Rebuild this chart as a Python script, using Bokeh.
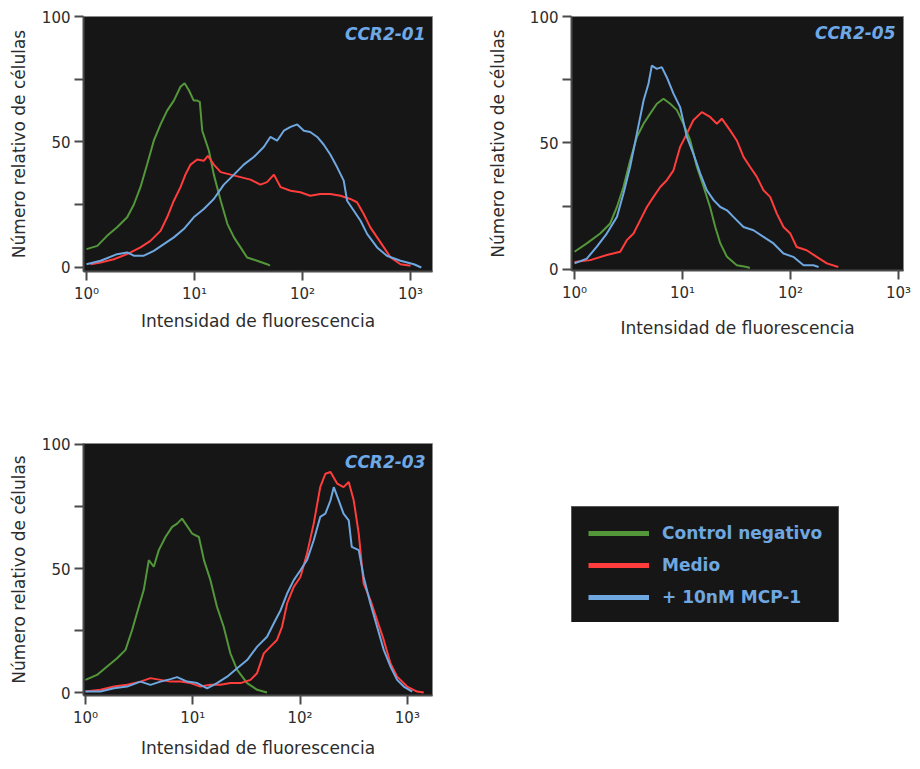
from bokeh.plotting import figure
from bokeh.models import FixedTicker, Label, Legend, LegendItem, Range1d, CustomJSTickFormatter
from bokeh.layouts import row, column
from bokeh.embed import file_html
from bokeh.resources import INLINE

# ---------------- data ----------------
series_names = ["Control negativo", "Medio", "+ 10nM MCP-1"]
panel_titles = ["CCR2-01", "CCR2-05", "CCR2-03"]
x_ticks = [1, 10, 100, 1000]
y_ticks = [0, 25, 50, 75, 100]
x_label = "Intensidad de fluorescencia"
y_label = "Número relativo de células"

# CCR2-01
p1_green_x = [1, 1.26, 1.55, 1.92, 2.38, 2.74, 3.16, 3.64, 4.2, 4.85, 5.58, 6.44, 7.42, 8.1, 8.9, 9.84,
              10.6, 11.2, 11.8, 13.6, 15.1, 17.5, 20.2, 23.2, 26.7, 30.7, 38, 47, 50]
p1_green_y = [7.3, 8.6, 12.6, 16, 20, 25, 32, 41, 50.5, 57, 62.5, 66.5, 72, 73.4, 70.5, 66.5,
              66.5, 66, 54.5, 46.5, 37, 26.6, 17.3, 12, 8, 4, 2.7, 1.3, 0.7]
p1_red_x = [1.09, 1.35, 1.79, 2.38, 3.16, 3.91, 4.85, 5.58, 6.44, 7.42, 8.24, 9.2, 10.6, 12.2, 13.3, 15.1,
            17.5, 21.6, 26.7, 33, 40.8, 47, 54.4, 62.8, 77.6, 95.6, 118, 146, 181, 225, 277, 320,
            369, 425, 491, 567, 655, 808, 1000]
p1_red_y = [1.3, 2, 3.3, 5.3, 8, 10.6, 14.6, 20, 26.6, 32, 37, 41, 43, 42.5, 44.5, 41,
            38, 37, 36, 35, 33, 34, 37, 32, 30.6, 30, 28.6, 29.3, 29.3, 28.6, 27.3, 26,
            21.3, 16, 12, 8, 4, 1.3, 0.7]
p1_blue_x = [1, 1.35, 1.92, 2.38, 2.74, 3.4, 4.2, 5.2, 6.44, 7.96, 9.84, 12.2, 15.1, 18.7, 23.2, 28.6,
             35.4, 43.8, 50.4, 58.2, 67.2, 77.6, 89.5, 103, 118, 137, 157, 181, 209, 241, 259, 299,
             345, 398, 491, 604, 808, 1077, 1260]
p1_blue_y = [1.3, 2.7, 5.3, 6, 4.7, 4.7, 6.6, 9.3, 12, 15.3, 20, 23.3, 27.3, 33, 37, 41,
             44, 48, 52, 50.5, 54.5, 56, 57, 54.5, 54, 52, 49, 45, 40, 34.6, 26.6, 22.6,
             18.6, 13.3, 8, 4.7, 2.7, 1.3, 0]

# CCR2-05
p2_green_x = [1, 1.3, 1.73, 2.14, 2.47, 2.84, 3.27, 3.78, 4.36, 5.02, 5.79, 6.67, 7.69, 8.87, 10.2, 11.8,
              13.6, 15.7, 18, 20.1, 22.4, 25.8, 31.8, 39.4, 42]
p2_green_y = [7, 10.3, 14.2, 18.2, 24.7, 32.6, 43, 52.4, 57.6, 61.6, 65.5, 67.5, 65.5, 63, 57.6, 51,
              40.5, 32.6, 24.7, 16.8, 10.3, 5, 1.7, 1, 0.6]
p2_red_x = [1, 1.4, 1.99, 2.65, 3.05, 3.52, 4.06, 4.68, 5.39, 6.22, 7.16, 8.25, 9.5, 10.97, 12.6, 15.1,
            18, 20.8, 23.1, 27.6, 31.8, 36.7, 42.3, 48.8, 56.2, 64.8, 74.7, 86.1, 99.6, 114, 141, 175,
            217, 277]
p2_red_y = [3, 3.7, 5.7, 7, 11.6, 14.2, 19.5, 24.7, 28.7, 32.6, 35.3, 39.2, 48.4, 53.7, 59, 62.2,
            60.3, 57.6, 59.6, 55, 51, 44.5, 40.5, 36.6, 31.3, 28.7, 22.1, 16.8, 14.2, 8.9, 7.6, 5,
            2.4, 1]
p2_blue_x = [1, 1.3, 1.61, 1.99, 2.47, 2.84, 3.27, 3.78, 4.36, 4.84, 5.2, 5.79, 6.43, 7.15, 8.25, 9.5,
             10.97, 12.6, 14.6, 16.8, 19.4, 22.4, 25.8, 29.6, 36.7, 45.4, 56.2, 69.6, 86.1, 106, 132, 163,
             182]
p2_blue_y = [2.4, 4.3, 9, 14.2, 20.8, 30, 40.5, 53.7, 66.8, 73.4, 80.6, 79.3, 80, 76, 69.5, 64.2,
             52.4, 45.8, 37.9, 31.3, 27.4, 24.7, 23.4, 20.8, 16.8, 15.5, 12.9, 10.3, 6.3, 5, 1.7, 1.7,
             1]

# CCR2-03
p3_green_x = [1, 1.28, 1.59, 1.97, 2.36, 2.72, 3.14, 3.49, 3.89, 4.33, 4.82, 5.56, 6.42, 7.14, 7.94, 8.54,
              9.86, 11.4, 12.7, 14.6, 16.8, 19.4, 22.4, 25.9, 32.1, 39.8, 49.2]
p3_green_y = [5.1, 7.1, 10.5, 13.8, 17.2, 25.2, 34.6, 41.3, 53.4, 50.7, 57.4, 62.7, 66.8, 68.1, 70.1, 68.1,
              64.1, 62.7, 53.4, 45.3, 34.6, 26.5, 15.8, 9.1, 3.8, 1.1, 0]
p3_red_x = [1, 1.38, 1.84, 2.44, 3.25, 4.03, 5, 6.19, 7.68, 9.52, 11.8, 14.6, 18.1, 22.4, 27.8, 34.5,
            39.7, 45.9, 52.8, 60.9, 67.9, 75.7, 87.3, 100.7, 116, 134, 154, 172, 192, 222, 254, 284,
            316, 352, 391, 452, 522, 602, 695, 802, 995, 1231, 1420]
p3_red_y = [0.4, 1.1, 2.4, 3.1, 4.4, 5.8, 5.1, 4.4, 4.4, 3.8, 2.4, 3.1, 3.1, 3.8, 3.8, 5.1,
            7.8, 15.8, 18.5, 21.2, 26.5, 35.9, 42.6, 46.6, 56, 68.1, 82.8, 88.2, 88.9, 84.2, 82.8, 84.9,
            77.5, 64.1, 44, 37.3, 29.2, 21.2, 11.8, 6.4, 2.4, 0.4, 0]
p3_blue_x = [1, 1.38, 1.84, 2.44, 3.25, 4.03, 5, 6.19, 7.14, 8.86, 11, 13.6, 16.8, 20.9, 25.9, 32.1,
             39.8, 49.2, 56.9, 65.8, 75.7, 87.3, 100.7, 116, 134, 154, 172, 192, 206, 229, 254, 284,
             303, 352, 391, 452, 522, 602, 695, 802, 925, 1108]
p3_blue_y = [0.4, 0.4, 1.7, 2.4, 4.4, 3.1, 4.4, 5.4, 6.2, 4.4, 3.8, 1.7, 3.8, 6.4, 9.8, 13.1,
             18.5, 22.5, 27.9, 33.2, 39.9, 45.3, 49.3, 53.4, 61.4, 70.8, 72.1, 77.5, 82.8, 77.5, 72.1, 69.4,
             58.7, 57.4, 46.6, 35.9, 26.5, 17.2, 10.5, 5.1, 2.4, 0.4]

# ---------------- style ----------------
GREEN = "#54973a"
RED = "#ff3d3d"
BLUE = "#6fa7e0"
TITLE_BLUE = "#6ea8e6"
FRAME_BG = "#161616"
INK = "#2c2c2c"
FONT = "DejaVu Sans"

x_fmt = CustomJSTickFormatter(code="""
const s = {0: '\u2070', 1: '\u00b9', 2: '\u00b2', 3: '\u00b3'};
return '10' + s[Math.round(Math.log10(tick))];
""")
y_fmt = CustomJSTickFormatter(code="return (Math.round(tick) % 50 == 0) ? Math.round(tick).toString() : '';")


def make_panel(title, width, height, borders, xr, yr, xls, yls, curves, inset):
    left, right, top, bottom = borders
    p = figure(width=width, height=height, x_axis_type="log",
               x_range=Range1d(*xr), y_range=Range1d(*yr),
               output_backend="svg", toolbar_location=None,
               min_border_left=left, min_border_right=right,
               min_border_top=top, min_border_bottom=bottom)
    p.background_fill_color = FRAME_BG
    p.border_fill_color = "white"
    p.outline_line_color = "#8a8a8a"
    p.outline_line_width = 1
    p.grid.visible = False

    p.xaxis.ticker = FixedTicker(ticks=x_ticks)
    p.xaxis.formatter = x_fmt
    p.yaxis.ticker = FixedTicker(ticks=y_ticks)
    p.yaxis.formatter = y_fmt
    p.xaxis.axis_label = x_label
    p.yaxis.axis_label = y_label
    p.xaxis.axis_label_standoff = xls
    p.yaxis.axis_label_standoff = yls

    for ax in (p.xaxis, p.yaxis):
        ax.axis_line_color = "#4a4a4a"
        ax.axis_line_width = 2
        ax.major_tick_line_color = "#4a4a4a"
        ax.major_tick_line_width = 2
        ax.major_tick_out = 9
        ax.major_tick_in = 0
        ax.minor_tick_line_color = None
        ax.major_label_text_font = FONT
        ax.major_label_text_font_size = "15px"
        ax.major_label_text_color = INK
        ax.major_label_standoff = 4
        ax.axis_label_text_font = FONT
        ax.axis_label_text_font_size = "17px"
        ax.axis_label_text_font_style = "normal"
        ax.axis_label_text_color = INK

    for (xs, ys, c) in curves:
        p.line(xs, ys, line_color=c, line_width=2)

    fw = width - left - right
    fh = height - top - bottom
    p.add_layout(Label(x=fw - inset[0], y=fh - inset[1], x_units="screen", y_units="screen",
                       text=title, text_align="right", text_baseline="top",
                       text_font=FONT, text_font_style="bold italic",
                       text_font_size="17px", text_color=TITLE_BLUE))
    return p


# left column: width 468 (frames 83..432); right column: width 443 (frames 571..903)
p1 = make_panel(panel_titles[0], 468, 343, (83, 36, 16, 72),
                (0.938, 1600), (-1.6, 100), 5, 10,
                [(p1_green_x, p1_green_y, GREEN), (p1_red_x, p1_red_y, RED), (p1_blue_x, p1_blue_y, BLUE)],
                (7, 7))
p2 = make_panel(panel_titles[1], 443, 343, (103, 8, 16, 73),
                (0.938, 1112), (-0.4, 100), 13, 19,
                [(p2_green_x, p2_green_y, GREEN), (p2_red_x, p2_red_y, RED), (p2_blue_x, p2_blue_y, BLUE)],
                (8, 6))
p3 = make_panel(panel_titles[2], 468, 417, (83, 36, 100, 64),
                (0.958, 1714), (-1.2, 100.4), 8, 10,
                [(p3_green_x, p3_green_y, GREEN), (p3_red_x, p3_red_y, RED), (p3_blue_x, p3_blue_y, BLUE)],
                (7, 9))

# legend panel: its frame is the legend box region
p4 = figure(width=443, height=417, x_range=Range1d(-2, -1), y_range=Range1d(-2, -1),
            output_backend="svg", toolbar_location=None,
            x_axis_location=None, y_axis_location=None,
            min_border_left=103, min_border_right=8, min_border_top=163, min_border_bottom=138)
p4.grid.visible = False
p4.outline_line_color = None
p4.background_fill_color = "white"
p4.border_fill_color = "white"
rs = []
for (xs, ys, c) in [(p3_green_x, p3_green_y, GREEN), (p3_red_x, p3_red_y, RED), (p3_blue_x, p3_blue_y, BLUE)]:
    rs.append(p4.line(xs, ys, line_color=c, line_width=5))
legend = Legend(items=[LegendItem(label=n, renderers=[r]) for n, r in zip(series_names, rs)],
                location="top_left", background_fill_color=FRAME_BG, background_fill_alpha=1,
                border_line_color="#9a9a9a", border_line_width=1,
                label_text_color=BLUE, label_text_font=FONT, label_text_font_style="bold",
                label_text_font_size="17px", glyph_width=61, glyph_height=20, label_height=20,
                label_standoff=13, padding=16, spacing=12, margin=0)
p4.add_layout(legend, "center")

layout = row(column(p1, p3), column(p2, p4))

open("out.html", "w").write(file_html(layout, INLINE))
